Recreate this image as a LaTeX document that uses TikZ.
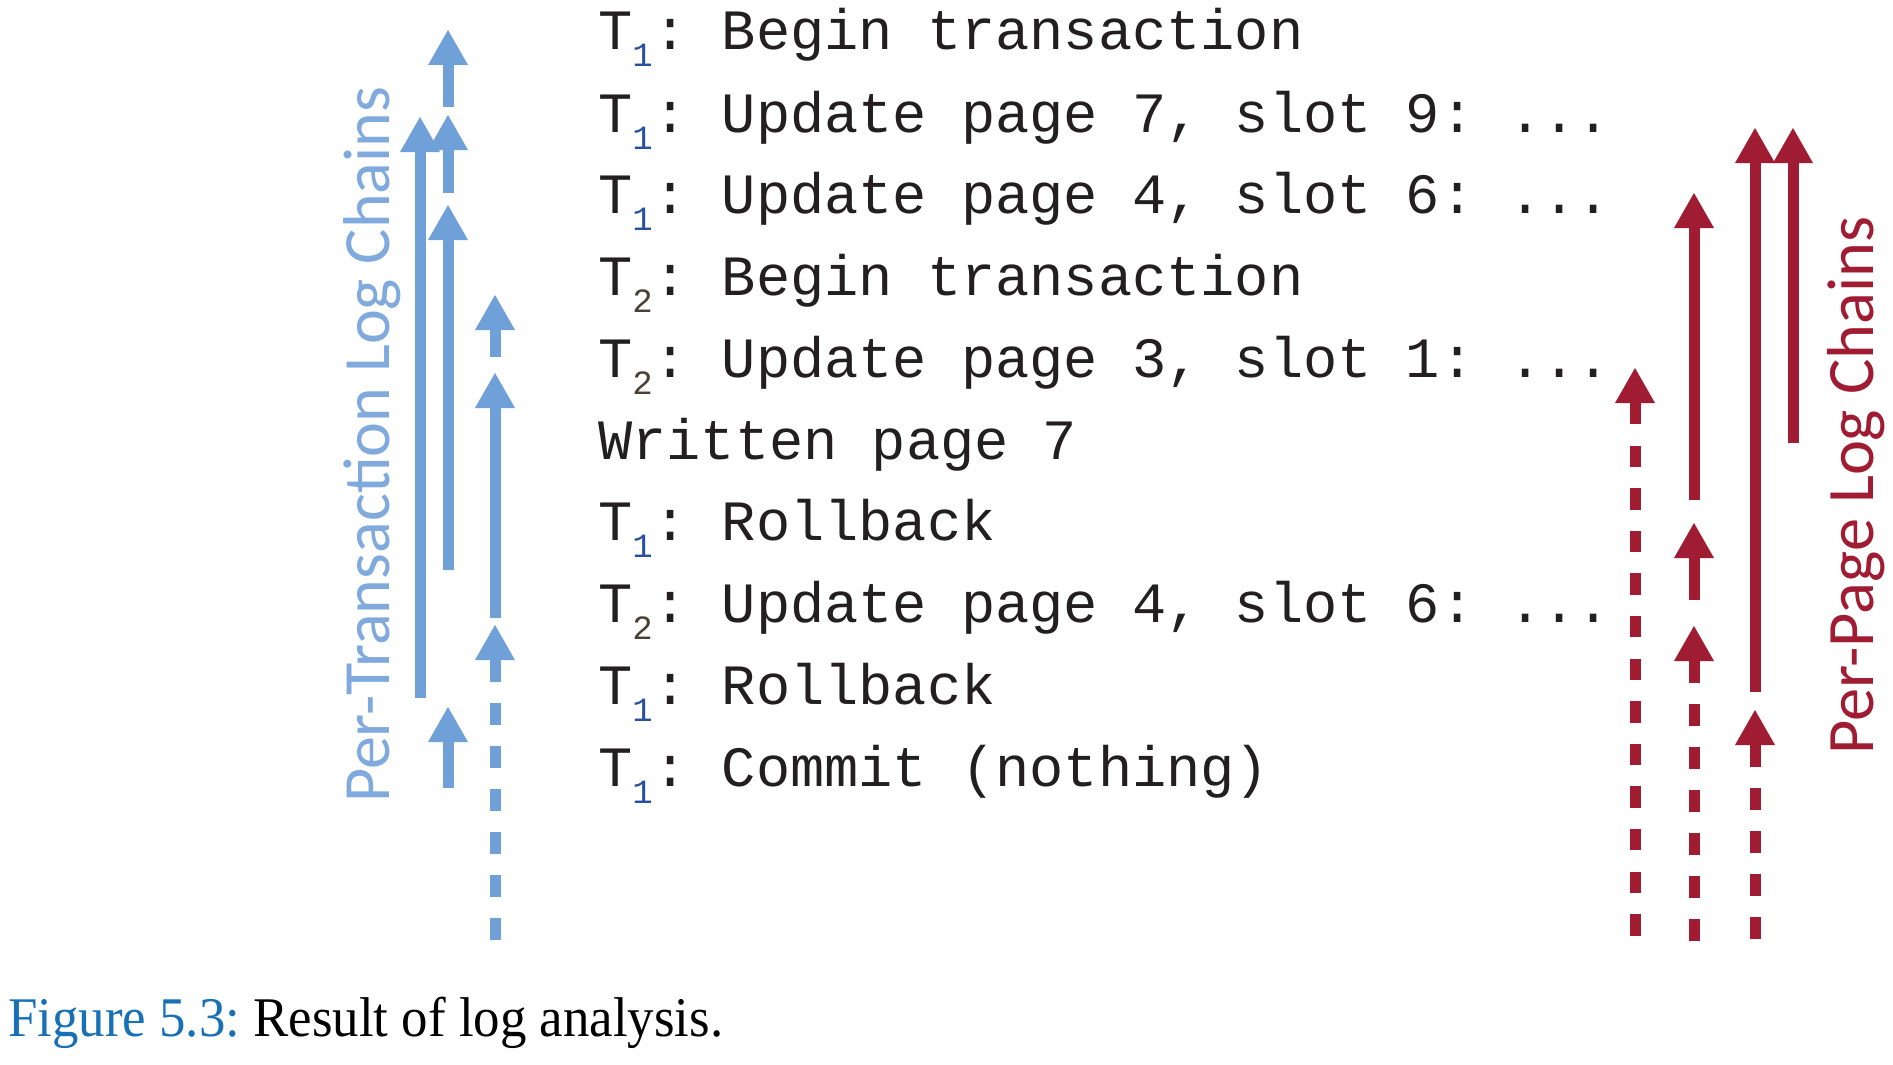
\documentclass[tikz,border=0pt]{standalone}
\usepackage{fontspec}
\setmainfont{Liberation Serif}
\newfontfamily\logfont{Liberation Mono}
\newfontfamily\chainfont{Carlito}
\frenchspacing

\definecolor{tblue}{RGB}{112,160,216}
\definecolor{tbluetext}{RGB}{128,170,222}
\definecolor{pred}{RGB}{160,28,50}
\definecolor{logtext}{RGB}{35,31,32}
\definecolor{subone}{RGB}{40,80,160}
\definecolor{subtwo}{RGB}{75,62,50}
\definecolor{capblue}{RGB}{24,112,182}

% transaction name with its index set low, as in the log listing
\newcommand\subidx[2]{T\makebox[21pt][l]{\raisebox{-17pt}{\color{#1}\fontsize{34}{34}\selectfont #2}}}
\newcommand\Tone{\subidx{subone}{1}}
\newcommand\Ttwo{\subidx{subtwo}{2}}

\begin{document}
\begin{tikzpicture}[x=1pt,y=-1pt,
  logline/.style={anchor=base west, inner sep=0pt, text=logtext,
    font=\logfont\fontsize{57}{57}\selectfont},
  chainlabel/.style={anchor=base west, inner sep=0pt, rotate=90,
    font=\chainfont},
]
\useasboundingbox[fill=white] (0,0) rectangle (1893,1065);

% an upward arrow head: colour, x, y of the tip
\newcommand\uphead[3]{\fill[#1] (#2-20,#3+35) -- (#2+20,#3+35) -- (#2,#3) -- cycle;}
% solid chain link: colour, x, tip, lower end
\newcommand\solidlink[4]{\uphead{#1}{#2}{#3}\draw[draw=#1, line width=11pt] (#2,#3+35) -- (#2,#4);}
% dashed chain link: colour, x, tip, lower end, dash pattern
\newcommand\dashlink[5]{\uphead{#1}{#2}{#3}\draw[draw=#1, line width=11pt, dash pattern=#5] (#2,#3+35) -- (#2,#4);}

% ---- the log records ----
\node[logline] (l1)  at (598,50)  {\Tone: Begin transaction};
\node[logline] (l2)  at (598,132) {\Tone: Update page 7, slot 9: ...};
\node[logline] (l3)  at (598,213) {\Tone: Update page 4, slot 6: ...};
\node[logline] (l4)  at (598,295) {\Ttwo: Begin transaction};
\node[logline] (l5)  at (598,377) {\Ttwo: Update page 3, slot 1: ...};
\node[logline] (l6)  at (598,459) {Written page 7};
\node[logline] (l7)  at (598,540) {\Tone: Rollback};
\node[logline] (l8)  at (598,622) {\Ttwo: Update page 4, slot 6: ...};
\node[logline] (l9)  at (598,704) {\Tone: Rollback};
\node[logline] (l10) at (598,786) {\Tone: Commit (nothing)};

% ---- per-transaction chains ----
\solidlink{tblue}{420}{117}{698}
\solidlink{tblue}{448}{30}{107}
\solidlink{tblue}{448}{115}{193}
\solidlink{tblue}{448}{205}{570}
\solidlink{tblue}{448}{707}{788}
\solidlink{tblue}{495}{295}{357}
\solidlink{tblue}{495}{373}{618}
\dashlink{tblue}{495}{625}{942}{on 22pt off 21pt}

\node[chainlabel, text=tbluetext] (tlabel) at (389,803)
  {\resizebox{716pt}{!}{Per-Transaction Log Chains}};

% ---- per-page chains ----
\dashlink{pred}{1635}{368}{937}{on 21.3pt off 21.3pt}
\solidlink{pred}{1694}{193}{500}
\solidlink{pred}{1694}{523}{600}
\dashlink{pred}{1694}{626}{941}{on 22pt off 21pt}
\solidlink{pred}{1755}{128}{692}
\dashlink{pred}{1755}{710}{939}{on 22pt off 21pt}
\solidlink{pred}{1793}{128}{443}

\node[chainlabel, text=pred] (plabel) at (1873,755)
  {\resizebox{538pt}{!}{Per-Page Log Chains}};

% ---- caption ----
\node[anchor=base west, inner sep=0pt, font=\fontsize{56}{56}\selectfont] (cap) at (8,1036)
  {\scalebox{0.944}[1]{\textcolor{capblue}{Figure 5.3:} Result of log analysis.}};
\end{tikzpicture}
\end{document}
